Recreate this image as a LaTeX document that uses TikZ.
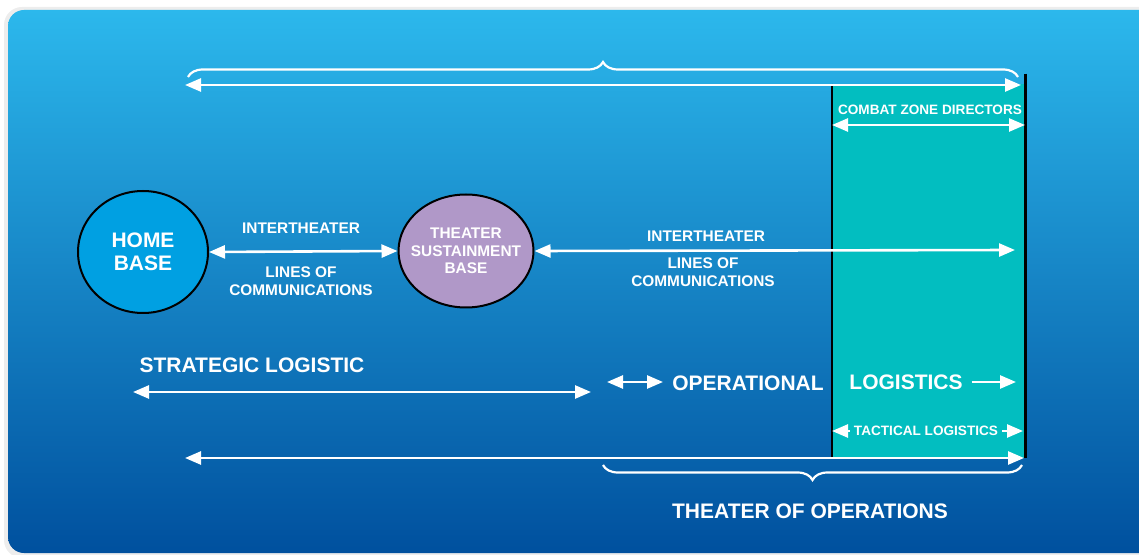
\documentclass[tikz,border=0pt]{standalone}
\usepackage{fontspec}
\setmainfont{Liberation Sans}
\usetikzlibrary{arrows.meta}
\usetikzlibrary{shapes.geometric}
\usetikzlibrary{decorations.pathreplacing}

\definecolor{skytop}{RGB}{44,184,236}
\definecolor{skymid}{RGB}{0,150,214}
\definecolor{skybot}{RGB}{0,80,158}
\definecolor{homeblue}{RGB}{0,160,226}
\definecolor{tsblilac}{RGB}{176,152,200}
\definecolor{zoneteal}{RGB}{2,190,192}

\begin{document}
\begin{tikzpicture}[x=0.5pt,y=-0.5pt,
        lbl/.style={text=white,align=center,font=\bfseries\fontsize{7.7}{8.8}\selectfont},
        tinylbl/.style={text=white,align=center,font=\bfseries\fontsize{6.8}{8}\selectfont},
        biglbl/.style={text=white,align=center,font=\bfseries\fontsize{10.5}{11.6}\selectfont},
        base/.style={ellipse,draw,line width=1pt,inner sep=0pt},
        wline/.style={draw=white,line width=1.3pt},
        sarrow/.style={wline,-{Triangle[length=8pt,width=6.5pt]}},
        darrow/.style={wline,{Triangle[length=8pt,width=6.5pt]}-{Triangle[length=8pt,width=6.5pt]}},
        wbrace/.style={draw=white,line width=1.1pt,decorate,decoration={brace,amplitude=7.5pt}}]
        \useasboundingbox (0,0) rectangle (1139,555);
        \fill[black!7,rounded corners=9pt] (4,7) rectangle (1160,558);
        \shade[top color=skytop,middle color=skymid,bottom color=skybot,rounded corners=8pt] (8,10) rectangle (1160,553);

        \node[fill=zoneteal,inner sep=0,minimum width=96.5pt,minimum height=187pt] (zone) at (928.5,271) {};
        \draw[line width=1pt] (zone.north west) -- (zone.south west);
        \draw[line width=1.7pt] ([yshift=5pt]zone.north east) -- (zone.south east);

        \node[base,fill=homeblue,minimum width=65pt,minimum height=61pt] (home) at (143,252) {};
        \node[biglbl] (homeTxt) at (home) {HOME\\BASE};
        \node[base,fill=tsblilac,minimum width=67.5pt,minimum height=56.5pt] (tsb) at (466,251) {};
        \node[lbl] (tsbTxt) at (tsb) {THEATER\\SUSTAINMENT\\BASE};

        \node[lbl] (itA) at (301,228) {INTERTHEATER};
        \node[lbl] (locA) at (301,281) {LINES OF\\COMMUNICATIONS};
        \node[lbl] (itB) at (706,236) {INTERTHEATER};
        \node[lbl] (locB) at (703,272) {LINES OF\\COMMUNICATIONS};
        \node[biglbl] (strat) at (252,365) {STRATEGIC LOGISTIC};
        \node[biglbl] (oper) at (748,383) {OPERATIONAL};
        \node[biglbl] (logi) at (906,382) {LOGISTICS};
        \node[biglbl] (theater) at (810,511) {THEATER OF OPERATIONS};
        \node[tinylbl] (czd) at (930,110) {COMBAT ZONE DIRECTORS};
        \node[tinylbl,inner sep=2pt] (tac) at (926,431) {TACTICAL LOGISTICS};

        \coordinate (topL) at (185,85);
        \coordinate (topR) at (1021,85);
        \coordinate (botL) at (185,458);
        \coordinate (botR) at (1024,458);
        \coordinate (locR) at (1015,250);
        \coordinate (stratL) at (133,392);
        \coordinate (stratR) at (591,392);
        \coordinate (operL) at (607,382);
        \coordinate (operR) at (663,382);
        \coordinate (logiR) at (1016,382);
        \coordinate (czdL) at (832,125);
        \coordinate (czdR) at (1025,125);
        \coordinate (tacL) at (832,431);
        \coordinate (tacR) at (1023,431);

        \draw[darrow] (topL) -- (topR);
        \draw[darrow] (botL) -- (botR);
        \draw[darrow] (home.east) -- (tsb.west);
        \draw[darrow] (tsb.east) -- (locR);
        \draw[darrow] (stratL) -- (stratR);
        \draw[darrow] (operL) -- (operR);
        \draw[sarrow] ([xshift=1pt]logi.east) -- (logiR);
        \draw[darrow] (czdL) -- (czdR);
        \draw[sarrow] (tac.west) -- (tacL);
        \draw[sarrow] (tac.east) -- (tacR);

        \draw[wbrace] (188,77) -- (1018,77);
        \draw[wbrace] (1022,465) -- (603,465);
    \end{tikzpicture}
\end{document}
